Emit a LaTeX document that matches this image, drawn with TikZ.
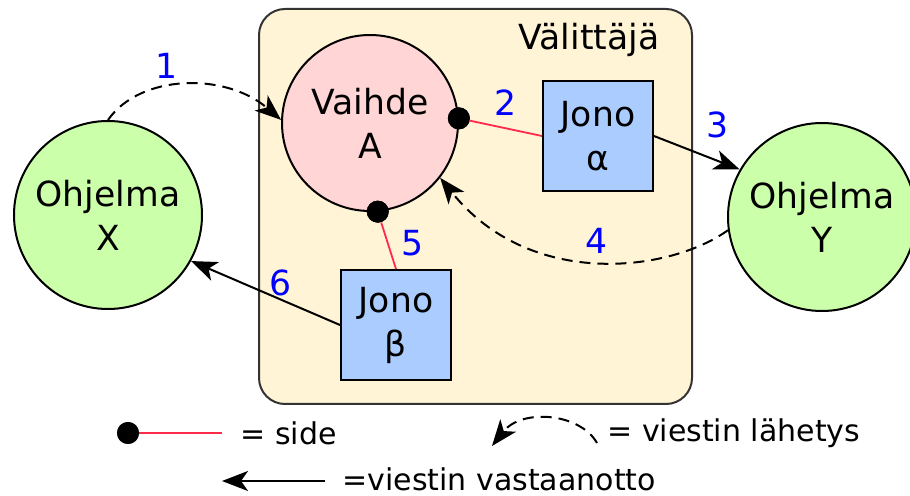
\documentclass[tikz,border=0pt]{standalone}
\usepackage{fontspec}
\setmainfont{DejaVu Sans}
\usetikzlibrary{arrows.meta}

\definecolor{brokerfill}{HTML}{FFF4D5}
\definecolor{brokerline}{HTML}{333333}
\definecolor{progfill}{HTML}{CCFFAA}
\definecolor{exchfill}{HTML}{FFD5D5}
\definecolor{queuefill}{HTML}{AACCFF}
\definecolor{bindred}{HTML}{FF2A4A}
\definecolor{numblue}{HTML}{0000FF}

\newcommand{\bigfs}{\fontsize{17.3}{22}\selectfont}
\newcommand{\legfs}{\fontsize{15}{18}\selectfont}

\tikzset{
  prog/.style={circle, draw, line width=1pt, fill=progfill, minimum size=94pt,
    inner sep=0pt, align=center, font=\bigfs},
  exch/.style={circle, draw, line width=1pt, fill=exchfill, minimum size=88pt,
    inner sep=0pt, align=center, font=\bigfs},
  queue/.style={rectangle, draw, line width=1pt, fill=queuefill, minimum size=55pt,
    inner sep=0pt, align=center, font=\bigfs},
  bindot/.style={circle, fill=black, minimum size=11pt, inner sep=0pt},
  bind/.style={draw=bindred, line width=0.9pt},
  tip/.style={-{Stealth[length=13pt, width=10pt, inset=3.5pt]}},
  recv/.style={tip, line width=1pt},
  send/.style={tip, line width=1pt, dash pattern=on 5.5pt off 3.5pt},
  num/.style={text=numblue, font=\bigfs, inner sep=0pt},
  legtext/.style={font=\legfs, anchor=west, inner sep=0pt}
}

\begin{document}
\begin{tikzpicture}[x=0.5pt, y=-0.5pt]
  \useasboundingbox (0,0) rectangle (910,496);

  % broker container
  \draw[draw=brokerline, line width=1pt, fill=brokerfill, rounded corners=13pt]
    (259,9) rectangle (692,404);
  \node[font=\bigfs, inner sep=0pt] (broker) at (589,40) {Välittäjä};

  % programs, exchange and queues
  \node[prog] (progX) at (108,215) {Ohjelma\\X};
  \node[prog] (progY) at (822,217) {Ohjelma\\Y};
  \node[exch] (vaihde) at (370,123) {Vaihde\\A};
  \node[queue] (alpha) at (598,136) {Jono\\α};
  \node[queue] (beta) at (396,325) {Jono\\β};

  % bindings
  \node[bindot] (dA) at (vaihde.3) {};
  \node[bindot] (dB) at (vaihde.-85) {};
  \draw[bind] (dA) -- (alpha.west);
  \draw[bind] (dB) -- (beta.north);
  \node[bindot] at (dA) {};
  \node[bindot] at (dB) {};

  % message flow
  \draw[send] (progX.north) .. controls (140,74) and (225,72) .. (vaihde.178);
  \draw[recv] (alpha.east) -- (progY.150);
  \draw[send] (progY.188) .. controls (670,272) and (530,290) .. (vaihde.-38);
  \draw[recv] (beta.west) -- (progX.-29);

  % step numbers
  \node[num] (n1) at (167,66) {1};
  \node[num] (n2) at (506,103) {2};
  \node[num] (n3) at (717,125) {3};
  \node[num] (n4) at (596,241) {4};
  \node[num] (n5) at (413,243) {5};
  \node[num] (n6) at (281,283) {6};

  % legend
  \node[bindot] (ldot) at (128,433) {};
  \coordinate (lend) at (222,433);
  \draw[bind] (ldot) -- (lend);
  \node[bindot] at (ldot) {};
  \node[legtext] (lside) at (240,433) {= side};

  \coordinate (ls1) at (597,443);
  \coordinate (ls2) at (492,446);
  \draw[send] (ls1) .. controls (580,413) and (522,408) .. (ls2);
  \node[legtext] (lsend) at (607,433) {= viestin lähetys};

  \coordinate (lr1) at (325,481);
  \coordinate (lr2) at (222,481);
  \draw[recv] (lr1) -- (lr2);
  \node[legtext] (lrecv) at (342,479) {=viestin vastaanotto};
\end{tikzpicture}
\end{document}
